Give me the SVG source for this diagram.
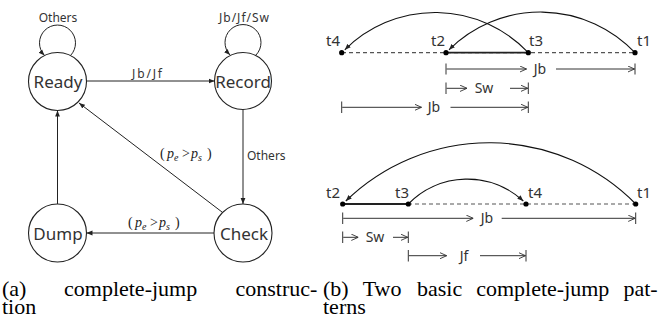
<svg xmlns="http://www.w3.org/2000/svg" width="661" height="322" viewBox="0 0 661 322">
<style>
.node{fill:#fff;stroke:#222;stroke-width:1.1}
.big{font-family:"Noto Sans",sans-serif;font-size:17px;fill:#333;text-anchor:middle}
.lbl{font-family:"Noto Sans",sans-serif;font-size:12px;fill:#333}
.tl{font-family:"Noto Sans",sans-serif;font-size:15px;fill:#333}
.dl{font-family:"Noto Sans",sans-serif;font-size:14px;fill:#333;text-anchor:middle}
.math{font-family:"Liberation Serif","Times New Roman",serif;font-size:14px;fill:#222}
.it{font-style:italic}
.sub{font-style:italic;font-size:10px}
.edge{fill:none;stroke:#222;stroke-width:1;marker-end:url(#ah)}
.arc{fill:none;stroke:#111;stroke-width:1.1;marker-end:url(#ah)}
.dash{stroke:#555;stroke-width:1.2;stroke-dasharray:4 3}
.solid{stroke:#222;stroke-width:1.8}
.dim{stroke:#333;stroke-width:1;fill:none}
.dimL{marker-start:url(#chev)}
.dimR{marker-end:url(#chev)}
.cap{font-family:"Liberation Serif","Times New Roman",serif;font-size:22px;fill:#000}
</style>
<defs>
<marker id="ah" viewBox="0 0 10 10" refX="10" refY="5" markerWidth="6" markerHeight="6" markerUnits="userSpaceOnUse" orient="auto"><path d="M0,1 L10,5 L0,9 z" fill="#222"/></marker>
<marker id="chev" viewBox="0 0 10 10" refX="10" refY="5" markerWidth="7" markerHeight="7" markerUnits="userSpaceOnUse" orient="auto-start-reverse"><path d="M0,0.5 L10,5 L0,9.5" fill="none" stroke="#333" stroke-width="1.3"/></marker>
</defs>

<g id="ready"><circle class="node" cx="57.5" cy="81.5" r="29"/><text class="big" x="58" y="88">Ready</text></g>
<g id="record"><circle class="node" cx="243" cy="81" r="28.5"/><text class="big" x="243" y="88">Record</text></g>
<g id="dump"><circle class="node" cx="57.5" cy="233" r="29"/><text class="big" x="58" y="240">Dump</text></g>
<g id="check"><circle class="node" cx="243" cy="233" r="29"/><text class="big" x="244" y="240">Check</text></g>

<g id="connectors">
<path class="edge" d="M70.5,55.5 A18,18 0 1 0 44.5,55.5"/>
<path class="edge" d="M256,55 A18,18 0 1 0 230,55"/>
<path class="edge" d="M86.5,81 L214.5,81"/>
<path class="edge" d="M243,109.5 L243,204"/>
<path class="edge" d="M222,212 L79,103"/>
<path class="edge" d="M214,233 L86.5,233"/>
<path class="edge" d="M57.5,204 L57.5,110.5"/>
</g>

<g id="edge-labels">
<text class="lbl" x="58" y="22" text-anchor="middle">Others</text>
<text class="lbl" x="219" y="22" font-size="13" textLength="50" lengthAdjust="spacing">Jb/Jf/Sw</text>
<text class="lbl" x="132" y="78" font-size="13" textLength="30" lengthAdjust="spacing">Jb/Jf</text>
<text class="lbl" x="247" y="160">Others</text>
<text class="math" y="158"><tspan x="160">(</tspan><tspan x="167" class="it">p</tspan><tspan x="174" dy="3" class="sub">e</tspan><tspan x="182" dy="-3">&gt;</tspan><tspan x="191" class="it">p</tspan><tspan x="198" dy="3" class="sub">s</tspan><tspan x="207" dy="-3">)</tspan></text>
<text class="math" y="227"><tspan x="128">(</tspan><tspan x="135" class="it">p</tspan><tspan x="142" dy="3" class="sub">e</tspan><tspan x="150" dy="-3">&gt;</tspan><tspan x="159" class="it">p</tspan><tspan x="166" dy="3" class="sub">s</tspan><tspan x="175" dy="-3">)</tspan></text>
</g>

<g id="pattern1">
<line class="dash" x1="342" y1="52.7" x2="635" y2="52.7"/>
<line class="solid" x1="446" y1="52.7" x2="528.3" y2="52.7"/>
<path class="arc" d="M528.3,52.7 A128,128 0 0 0 344.8,49.8"/>
<path class="arc" d="M635,52.7 A130,130 0 0 0 449,49.8"/>
<circle cx="341.7" cy="52.7" r="2.6" fill="#000"/>
<circle cx="446" cy="52.7" r="2.6" fill="#000"/>
<circle cx="528.3" cy="52.7" r="2.6" fill="#000"/>
<circle cx="635" cy="52.7" r="2.6" fill="#000"/>
<text class="tl" x="340" y="46" text-anchor="end">t4</text>
<text class="tl" x="445" y="46" text-anchor="end">t2</text>
<text class="tl" x="529" y="46">t3</text>
<text class="tl" x="637" y="46">t1</text>
<g class="dim">
<path d="M446,63.5 V74.5 M635,63.5 V74.5"/>
<path class="dimL" d="M526.5,69 H446.5"/><path class="dimR" d="M556,69 H634.5"/>
<path d="M446,82.5 V94 M528.3,82.5 V94"/>
<path class="dimL" d="M467,88.3 H446.5"/><path class="dimR" d="M510,88.3 H527.8"/>
<path d="M341.7,101.5 V113 M528.3,101.5 V113"/>
<path class="dimL" d="M421.5,107.3 H342.2"/><path class="dimR" d="M450.5,107.3 H527.8"/>
</g>
<text class="dl" x="540" y="74">Jb</text>
<text class="dl" x="484" y="93">Sw</text>
<text class="dl" x="434" y="112">Jb</text>
</g>

<g id="pattern2">
<line class="dash" x1="408" y1="204" x2="635.7" y2="204"/>
<line class="solid" x1="342.7" y1="204" x2="408.3" y2="204"/>
<path class="arc" d="M635.7,204 A205.7,205.7 0 0 0 345.8,201"/>
<path class="arc" d="M408.3,204 A82.5,82.5 0 0 1 523.3,201"/>
<circle cx="342.7" cy="204" r="2.6" fill="#000"/>
<circle cx="408.3" cy="204" r="2.6" fill="#000"/>
<circle cx="526" cy="204" r="2.6" fill="#000"/>
<circle cx="635.7" cy="204" r="2.6" fill="#000"/>
<text class="tl" x="340" y="198" text-anchor="end">t2</text>
<text class="tl" x="409" y="198" text-anchor="end">t3</text>
<text class="tl" x="528" y="198">t4</text>
<text class="tl" x="637" y="198">t1</text>
<g class="dim">
<path d="M342.7,212.5 V224 M635.7,212.5 V224"/>
<path class="dimL" d="M473.3,218.3 H343.2"/><path class="dimR" d="M501.7,218.3 H635.2"/>
<path d="M342.7,231.5 V243 M408.3,231.5 V243"/>
<path class="dimL" d="M358.3,237.3 H343.2"/><path class="dimR" d="M393,237.3 H407.8"/>
<path d="M408.3,250 V261.5 M526,250 V261.5"/>
<path class="dimL" d="M446.7,255.7 H408.8"/><path class="dimR" d="M480,255.7 H525.5"/>
</g>
<text class="dl" x="487" y="223">Jb</text>
<text class="dl" x="375" y="242">Sw</text>
<text class="dl" x="464" y="260.5">Jf</text>
</g>

<text class="cap" y="296"><tspan x="2">(a)</tspan><tspan x="64">complete-jump</tspan><tspan x="235.5">construc-</tspan></text>
<text class="cap" y="314"><tspan x="2">tion</tspan></text>
<text class="cap" y="296"><tspan x="323">(b)</tspan><tspan x="362.7">Two</tspan><tspan x="417">basic</tspan><tspan x="476.2">complete-jump</tspan><tspan x="623.4">pat-</tspan></text>
<text class="cap" y="314"><tspan x="323">terns</tspan></text>
</svg>
